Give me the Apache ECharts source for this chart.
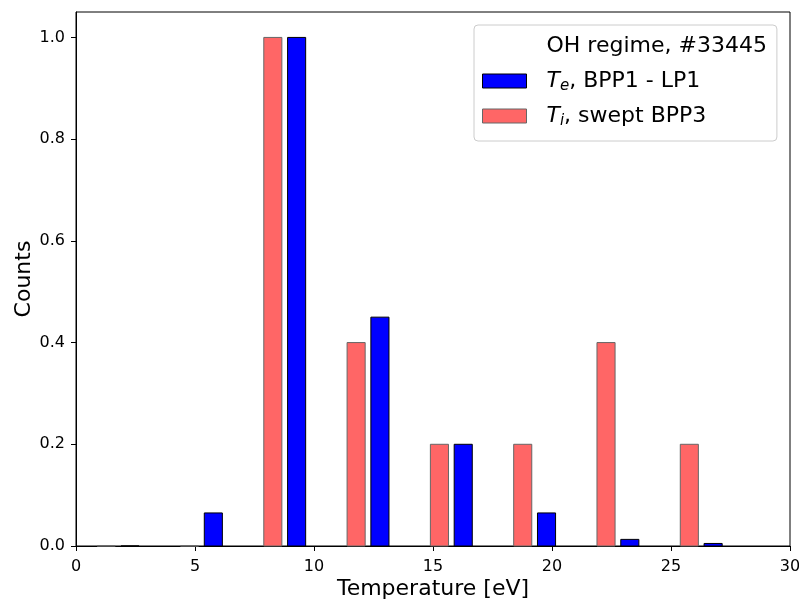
<!DOCTYPE html>
<html>
<head>
<meta charset="utf-8">
<script src="https://cdn.jsdelivr.net/npm/echarts@6/dist/echarts.min.js"></script>
<style>
html,body{margin:0;padding:0;background:#fff;}
#chart{width:799px;height:603px;}
</style>
</head>
<body>
<div id="chart"></div>
<script>
// Bin centres (eV) and normalised counts
const teCenters = [2.27, 5.77, 9.27, 12.77, 16.27, 19.77, 23.27, 26.77];
const teCounts  = [0, 0.065, 1.0, 0.45, 0.2, 0.065, 0.013, 0.005];
const tiCenters = [1.27, 4.77, 8.27, 11.77, 15.27, 18.77, 22.27, 25.77];
const tiCounts  = [0, 0, 1.0, 0.4, 0.2, 0.2, 0.4, 0.2];
const xTicks = [0, 5, 10, 15, 20, 25, 30];
const yTicks = [0, 0.2, 0.4, 0.6, 0.8, 1.0];
const BAR_W = 0.76; // bar width in eV

const FONT = 'DejaVu Sans';
const nameTitle = 'OH regime, #33445';
const nameTe = 'Te, BPP1 - LP1';
const nameTi = 'Ti, swept BPP3';

function barRender(fill, stroke) {
  return function (params, api) {
    const x = api.value(0), y = api.value(1);
    const p0 = api.coord([x - BAR_W / 2, y]);
    const p1 = api.coord([x + BAR_W / 2, 0]);
    return {
      type: 'rect',
      shape: { x: p0[0], y: p0[1], width: p1[0] - p0[0], height: p1[1] - p0[1] },
      style: { fill: fill, stroke: stroke, lineWidth: 1 }
    };
  };
}

const chart = echarts.init(document.getElementById('chart'), null, { renderer: 'canvas' });
chart.setOption({
  animation: false,
  backgroundColor: '#fff',
  grid: { left: 76, right: 9, top: 12, bottom: 57, containLabel: false, outerBoundsMode: 'none',
    show: true, borderColor: '#000', borderWidth: 1, backgroundColor: 'transparent' },
  xAxis: {
    type: 'value', min: 0, max: 30, interval: 5,
    name: 'Temperature [eV]', nameLocation: 'middle', nameGap: 32, nameMoveOverlap: false,
    nameTextStyle: { fontFamily: FONT, fontSize: 22, color: '#000' },
    axisLine: { show: true, lineStyle: { color: '#000', width: 1 } },
    axisTick: { show: true, length: 5, inside: false, lineStyle: { color: '#000' }, customValues: xTicks },
    axisLabel: { fontFamily: FONT, fontSize: 16, color: '#000', margin: 13, customValues: xTicks },
    splitLine: { show: false }
  },
  yAxis: {
    type: 'value', min: 0, max: 1.05, interval: 0.2,
    name: 'Counts', nameLocation: 'middle', nameGap: 41, nameRotate: 90, nameMoveOverlap: false,
    nameTextStyle: { fontFamily: FONT, fontSize: 22, color: '#000' },
    axisLine: { show: true, lineStyle: { color: '#000', width: 1 } },
    axisTick: { show: true, length: 5, inside: false, lineStyle: { color: '#000' }, customValues: yTicks },
    axisLabel: { fontFamily: FONT, fontSize: 16, color: '#000', margin: 11, customValues: yTicks,
      formatter: v => v.toFixed(1) },
    splitLine: { show: false }
  },
  legend: {
    orient: 'vertical', left: 474, top: 25,
    padding: [8, 10, 12, 8],
    itemWidth: 44, itemHeight: 14, itemGap: 9,
    selectedMode: false,
    backgroundColor: '#fff', borderColor: '#cccccc', borderWidth: 1, borderRadius: 4,
    textStyle: {
      fontFamily: FONT, fontSize: 22, color: '#000', lineHeight: 26,
      rich: {
        g: { width: 15 },
        it: { fontFamily: FONT, fontSize: 22, fontStyle: 'italic', color: '#000' },
        sub: { fontFamily: FONT, fontSize: 15, fontStyle: 'italic', color: '#000', padding: [11, 0, 0, 0] },
        n: { fontFamily: FONT, fontSize: 22, color: '#000' }
      }
    },
    formatter: function (name) {
      if (name === nameTe) return '{g| }{it|T}{sub|e}{n|, BPP1 - LP1}';
      if (name === nameTi) return '{g| }{it|T}{sub|i}{n|, swept BPP3}';
      return '{g| }{n|' + name + '}';
    },
    data: [
      { name: nameTitle, icon: 'rect', itemStyle: { color: 'rgba(0,0,0,0)', borderWidth: 0 } },
      { name: nameTe, icon: 'rect', itemStyle: { color: '#0000ff', borderColor: '#000', borderWidth: 1 } },
      { name: nameTi, icon: 'rect', itemStyle: { color: '#ff6666', borderColor: '#666666', borderWidth: 1 } }
    ]
  },
  series: [
    { name: nameTitle, type: 'custom', renderItem: () => null, data: [], itemStyle: { color: 'rgba(0,0,0,0)' } },
    { name: nameTi, type: 'custom', renderItem: barRender('#ff6666', '#666666'),
      itemStyle: { color: '#ff6666' },
      data: tiCenters.map((c, i) => [c, tiCounts[i]]), encode: { x: 0, y: 1 } },
    { name: nameTe, type: 'custom', renderItem: barRender('#0000ff', '#000000'),
      itemStyle: { color: '#0000ff' },
      data: teCenters.map((c, i) => [c, teCounts[i]]), encode: { x: 0, y: 1 } }
  ]
});
</script>
</body>
</html>
